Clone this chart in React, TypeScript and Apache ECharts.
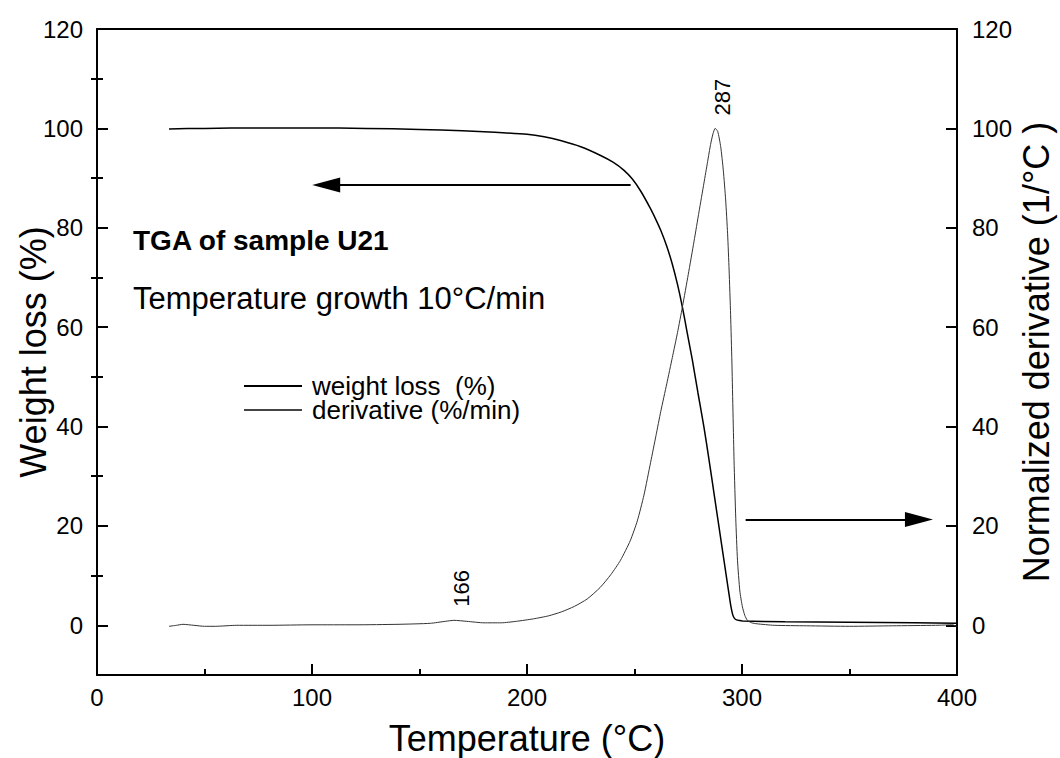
import React, { useEffect, useRef } from "react";
import * as echarts from "echarts";

// Weight loss curve (temperature °C, weight %)
const wlTemp = [33.5, 50, 75, 100, 125, 150, 170, 185, 200, 208, 216, 225, 234, 240, 245, 249, 253, 257.5, 260, 262.2, 265, 267.5, 270, 272.3, 274.5, 276.9, 279.5, 282.3, 284.7, 287, 289.3, 291.6, 293.5, 294.8, 295.7, 296.5, 297.5, 298.8, 300.2, 320, 350, 380, 400];
const wlValue = [99.9, 100.0, 100.1, 100.1, 100.0, 99.8, 99.5, 99.2, 98.8, 98.3, 97.5, 96.3, 94.6, 93.2, 91.6, 89.8, 87.3, 83.8, 81.6, 79.5, 76.3, 72.8, 68.6, 64.0, 58.9, 53.4, 46.8, 39.9, 33.2, 26.5, 19.8, 13.1, 7.6, 3.9, 2.1, 1.4, 1.1, 0.95, 0.85, 0.7, 0.6, 0.5, 0.4];

// Normalized derivative curve (temperature °C, 1/°C normalized)
const derTemp = [33.5, 37, 40, 45, 50, 55, 65, 80, 100, 120, 140, 155, 162, 166, 172, 180, 188, 195, 203, 210, 216, 222, 228, 234, 239, 243.5, 248, 251.3, 254.4, 257.5, 260, 262.2, 265, 267.6, 270, 272.3, 275, 277.7, 280, 282.3, 284, 285.4, 286.5, 287.5, 288.7, 290.1, 291.3, 292.4, 293.3, 294, 294.7, 295.3, 296.3, 297.1, 297.9, 299, 300.2, 301.3, 302.5, 304.5, 307, 315, 330, 350, 370, 390, 398, 400];
const derValue = [-0.2, 0.0, 0.2, 0.0, -0.2, -0.2, 0.0, 0.0, 0.1, 0.1, 0.2, 0.4, 0.8, 1.0, 0.8, 0.5, 0.5, 0.8, 1.3, 1.9, 2.7, 3.8, 5.3, 7.6, 10.2, 13.1, 17.0, 21.0, 26.2, 32.8, 38.2, 43.0, 48.6, 53.9, 58.9, 64.1, 70.6, 77.3, 83.2, 89.0, 93.3, 96.8, 98.9, 100, 99.4, 96.3, 91.6, 85.6, 78.8, 71.5, 62.5, 53.0, 33.2, 21.5, 13.1, 6.9, 3.7, 2.0, 1.0, 0.5, 0.3, 0.0, -0.1, -0.2, -0.1, 0.0, 0.1, -0.3];

// Peak annotations: label text, and where the label sits (temperature, value)
const peakText = ["166", "287"];
const peakLabelTemp = [169.5, 291.0];
const peakLabelValue = [7.45, 106.3];

// Arrows: [fromT, fromV, toT, toV]
const arrowLeft = [248.2, 88.6, 106.6, 88.6];
const arrowRight = [301.7, 21.3, 382.3, 21.3];

// Axis ticks
const xMin = 0;
const xMax = 400;
const xStep = 100;
const yMin = -10;
const yMax = 120;
const yMajor = [0, 20, 40, 60, 80, 100, 120];
const yMinor = [10, 30, 50, 70, 90, 110];

const FONT = "'Liberation Sans', Arial, Helvetica, sans-serif";

export default function App() {
  const ref = useRef<HTMLDivElement>(null);

  useEffect(() => {
    if (!ref.current) return;
    const chart = echarts.init(ref.current, null, { renderer: "svg" });

    const wlData = wlTemp.map((t, i) => [t, wlValue[i]]);
    const derData = derTemp.map((t, i) => [t, derValue[i]]);
    const peakData = peakText.map((s, i) => ({ name: s, coord: [peakLabelTemp[i], peakLabelValue[i]] }));

    const axisLine = { show: true, onZero: false, lineStyle: { color: "#000", width: 2 } };
    const tickLabel = { color: "#000", fontSize: 24, fontFamily: FONT };
    const nameStyle = { color: "#000", fontSize: 36, fontFamily: FONT };

    const option: any = {
      animation: false,
      backgroundColor: "#fff",
      textStyle: { fontFamily: FONT },
      grid: { left: 97, right: 103, top: 29, bottom: 83, containLabel: false, outerBoundsMode: "none" },
      title: [
        {
          text: "TGA of sample U21",
          left: 128,
          top: 221,
          textStyle: { fontSize: 28, fontWeight: "bold", color: "#000", fontFamily: FONT },
        },
        {
          text: "Temperature growth 10°C/min",
          left: 128,
          top: 278,
          textStyle: { fontSize: 31, fontWeight: "normal", color: "#000", fontFamily: FONT },
        },
      ],
      legend: {
        orient: "vertical",
        left: 239,
        top: 368,
        itemWidth: 58,
        itemHeight: 2,
        itemGap: -2,
        data: [
          { name: "weight loss  (%)", icon: "rect", itemStyle: { color: "#000" } },
          { name: "derivative (%/min)", icon: "rect", itemStyle: { color: "#444" } },
        ],
        textStyle: { fontSize: 26, color: "#000", fontFamily: FONT, padding: [0, 0, 0, 5] },
        selectedMode: false,
      },
      xAxis: [
        {
          type: "value",
          min: xMin,
          max: xMax,
          interval: xStep,
          position: "bottom",
          name: "Temperature (°C)",
          nameLocation: "middle",
          nameGap: 45,
          nameTextStyle: nameStyle,
          axisLine,
          axisTick: { show: true, inside: true, length: 11, lineStyle: { color: "#000", width: 2 } },
          minorTick: { show: true, splitNumber: 2, length: 6, lineStyle: { color: "#000", width: 2 } },
          axisLabel: { ...tickLabel, margin: 10 },
          splitLine: { show: false },
          minorSplitLine: { show: false },
        },
        {
          type: "value",
          min: xMin,
          max: xMax,
          interval: xStep,
          position: "top",
          axisLine,
          axisTick: { show: false },
          axisLabel: { show: false },
          splitLine: { show: false },
        },
      ],
      yAxis: [
        {
          type: "value",
          min: yMin,
          max: yMax,
          position: "left",
          name: "Weight loss (%)",
          nameLocation: "middle",
          nameRotate: 90,
          nameGap: 46,
          nameMoveOverlap: false,
          nameTextStyle: nameStyle,
          axisLine,
          axisTick: { show: true, inside: true, length: 11, customValues: yMajor, lineStyle: { color: "#000", width: 2 } },
          axisLabel: { ...tickLabel, margin: 14, customValues: yMajor },
          splitLine: { show: false },
        },
        {
          type: "value",
          min: yMin,
          max: yMax,
          position: "right",
          name: "Normalized derivative (1/°C )",
          nameLocation: "middle",
          nameRotate: 90,
          nameGap: 61,
          nameMoveOverlap: false,
          nameTextStyle: nameStyle,
          axisLine,
          axisTick: { show: true, inside: true, length: 11, customValues: yMajor, lineStyle: { color: "#000", width: 2 } },
          axisLabel: { ...tickLabel, margin: 15, customValues: yMajor },
          splitLine: { show: false },
        },
        {
          type: "value",
          min: yMin,
          max: yMax,
          position: "left",
          axisLine: { show: false },
          axisTick: { show: true, inside: true, length: 6, customValues: yMinor, lineStyle: { color: "#000", width: 2 } },
          axisLabel: { show: false, customValues: yMinor },
          splitLine: { show: false },
        },
        {
          type: "value",
          min: yMin,
          max: yMax,
          position: "right",
          axisLine: { show: false },
          axisTick: { show: true, inside: true, length: 6, customValues: yMinor, lineStyle: { color: "#000", width: 2 } },
          axisLabel: { show: false, customValues: yMinor },
          splitLine: { show: false },
        },
      ],
      series: [
        {
          name: "weight loss  (%)",
          type: "line",
          xAxisIndex: 0,
          yAxisIndex: 0,
          data: wlData,
          symbol: "none",
          smooth: 0.2,
          lineStyle: { color: "#000", width: 1.5 },
          itemStyle: { color: "#000" },
          markLine: {
            silent: true,
            symbol: ["none", "triangle"],
            symbolSize: [15, 28],
            label: { show: false },
            lineStyle: { color: "#000", width: 2, type: "solid" },
            itemStyle: { color: "#000" },
            data: [
              [
                { coord: [arrowLeft[0], arrowLeft[1]] },
                { coord: [arrowLeft[2], arrowLeft[3]] },
              ],
              [
                { coord: [arrowRight[0], arrowRight[1]] },
                { coord: [arrowRight[2], arrowRight[3]] },
              ],
            ],
          },
          markPoint: {
            silent: true,
            symbol: "circle",
            symbolSize: 0,
            itemStyle: { color: "transparent" },
            label: {
              show: true,
              position: "inside",
              formatter: "{b}",
              rotate: 90,
              fontSize: 22,
              color: "#000",
              fontFamily: FONT,
            },
            data: peakData,
          },
        },
        {
          name: "derivative (%/min)",
          type: "line",
          xAxisIndex: 0,
          yAxisIndex: 1,
          data: derData,
          symbol: "none",
          smooth: 0.2,
          lineStyle: { color: "#333", width: 1 },
          itemStyle: { color: "#333" },
        },
      ],
    };

    chart.setOption(option);
    return () => chart.dispose();
  }, []);

  return (
    <div
      ref={ref}
      style={{ position: "fixed", left: 0, top: 0, width: 1060, height: 758, background: "#fff" }}
    />
  );
}
